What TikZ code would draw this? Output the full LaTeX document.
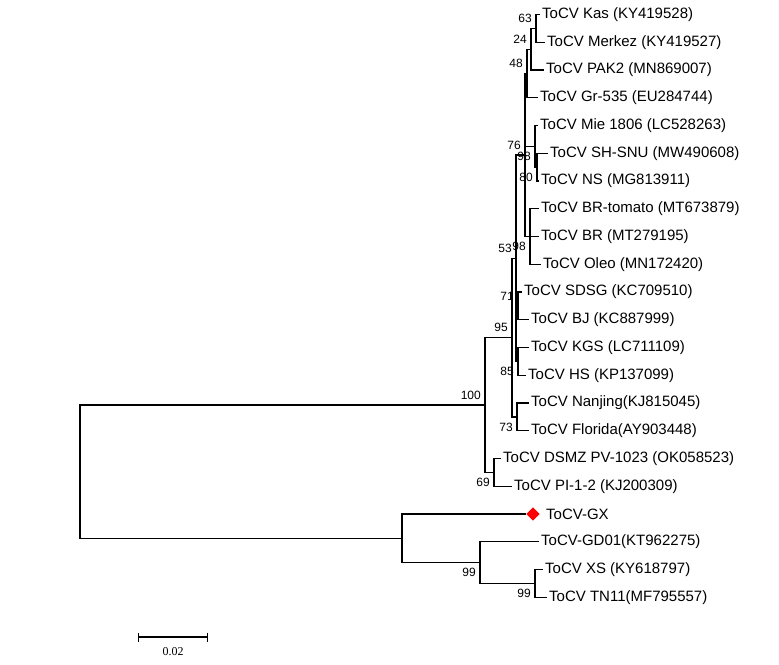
\documentclass[tikz,border=0pt]{standalone}
\usepackage{fontspec}
\setmainfont{Liberation Sans}
\newfontfamily\barfont{Liberation Serif}
\usetikzlibrary{shapes.geometric,arrows.meta}

\tikzset{
  branch/.style={line width=1.2pt},
  leaf/.style={anchor=west, inner sep=2.5pt, font=\fontsize{15}{16}\selectfont},
  boot/.style={anchor=east, inner sep=2pt, xshift=-2pt, font=\fontsize{12}{14}\selectfont},
  bootup/.style={boot, yshift=10pt},
  bootdn/.style={boot, yshift=-10pt},
  gxmark/.style={diamond, fill=red, inner sep=0pt, minimum width=13.5pt, minimum height=13.5pt}
}

\begin{document}
\begin{tikzpicture}[x=1pt, y=-1pt]
\useasboundingbox (0,0) rectangle (779,664);

% taxa
\node[leaf] (kas) at (539.5,14.5) {ToCV Kas (KY419528)};
\node[leaf] (merkez) at (544.5,42.2) {ToCV Merkez (KY419527)};
\node[leaf] (pak) at (543.5,70) {ToCV PAK2 (MN869007)};
\node[leaf] (gr) at (537.5,97.7) {ToCV Gr-535 (EU284744)};
\node[leaf] (mie) at (537.5,125.5) {ToCV Mie 1806 (LC528263)};
\node[leaf] (shsnu) at (547.5,153.2) {ToCV SH-SNU (MW490608)};
\node[leaf] (ns) at (538.5,181) {ToCV NS (MG813911)};
\node[leaf] (brt) at (538.5,208.7) {ToCV BR-tomato (MT673879)};
\node[leaf] (br) at (538.5,236.5) {ToCV BR (MT279195)};
\node[leaf] (oleo) at (540.5,264.2) {ToCV Oleo (MN172420)};
\node[leaf] (sdsg) at (521.5,292) {ToCV SDSG (KC709510)};
\node[leaf] (bj) at (528.5,319.7) {ToCV BJ (KC887999)};
\node[leaf] (kgs) at (528.5,347.5) {ToCV KGS (LC711109)};
\node[leaf] (hs) at (525.5,375.2) {ToCV HS (KP137099)};
\node[leaf] (nanjing) at (528.5,403) {ToCV Nanjing(KJ815045)};
\node[leaf] (florida) at (528.5,430.7) {ToCV Florida(AY903448)};
\node[leaf] (dsmz) at (500.5,458.5) {ToCV DSMZ PV-1023 (OK058523)};
\node[leaf] (pi) at (511.5,486.2) {ToCV PI-1-2 (KJ200309)};
\node[gxmark] (gxm) at (533,514) {};
\node[leaf] (gx) at (543.5,514) {ToCV-GX};
\node[leaf] (gd) at (538.5,541.7) {ToCV-GD01(KT962275)};
\node[leaf] (xs) at (542.5,569.5) {ToCV XS (KY618797)};
\node[leaf] (tn) at (546.5,597.2) {ToCV TN11(MF795557)};

% internal nodes
\coordinate (a) at (536,28.4);
\coordinate (b) at (531,49.2);
\coordinate (c) at (527,73.5);
\coordinate (f) at (537,167.1);
\coordinate (e) at (535,146.3);
\coordinate (brn) at (530,236.5);
\coordinate (w) at (525,155);
\coordinate (p) at (518,305.9);
\coordinate (q) at (518,361.4);
\coordinate (u) at (516,258.2);
\coordinate (nf) at (517,416.9);
\coordinate (n95) at (512,337.5);
\coordinate (dp) at (494,472.4);
\coordinate (n100) at (485,405);
\coordinate (tx) at (535,583.4);
\coordinate (gdn) at (480,562.6);
\coordinate (low) at (402,538.3);
\coordinate (root) at (80,471.6);

\draw[branch] (a) |- (kas.west);
\draw[branch] (a) |- (merkez.west);
\draw[branch] (b) |- (a);
\draw[branch] (b) |- (pak.west);
\draw[branch] (c) |- (b);
\draw[branch] (c) |- (gr.west);
\draw[branch] (f) |- (shsnu.west);
\draw[branch] (f) |- (ns.west);
\draw[branch] (e) |- (mie.west);
\draw[branch] (e) |- (f);
\draw[branch] (brn) |- (brt.west);
\draw[branch] (brn) -- (br.west);
\draw[branch] (brn) |- (oleo.west);
\draw[branch] (w) |- (c);
\draw[branch] (w) |- (e);
\draw[branch] (w) |- (brn);
\draw[branch] (p) |- (sdsg.west);
\draw[branch] (p) |- (bj.west);
\draw[branch] (q) |- (kgs.west);
\draw[branch] (q) |- (hs.west);
\draw[branch] (u) |- (w);
\draw[branch] (u) |- (p);
\draw[branch] (u) |- (q);
\draw[branch] (nf) |- (nanjing.west);
\draw[branch] (nf) |- (florida.west);
\draw[branch] (n95) |- (u);
\draw[branch] (n95) |- (nf);
\draw[branch] (dp) |- (dsmz.west);
\draw[branch] (dp) |- (pi.west);
\draw[branch] (n100) |- (n95);
\draw[branch] (n100) |- (dp);
\draw[branch] (tx) |- (xs.west);
\draw[branch] (tx) |- (tn.west);
\draw[branch] (gdn) |- (gd.west);
\draw[branch] (gdn) |- (tx);
\draw[branch] (low) |- (gxm.west);
\draw[branch] (low) |- (gdn);
\draw[branch] (root) |- (n100);
\draw[branch] (root) |- (low);

% bootstrap values
\node[bootup] (b63) at (a) {63};
\node[bootup] (b24) at (b) {24};
\node[bootup] (b48) at (c) {48};
\node[bootup] (b76) at (w) {76};
\node[bootdn] (b98a) at (e) {98};
\node[bootdn] (b80) at (f) {80};
\node[bootup] (b53) at (u) {53};
\node[bootdn] (b98b) at (brn) {98};
\node[bootup] (b71) at (p) {71};
\node[bootdn] (b85) at (q) {85};
\node[bootup] (b95) at (n95) {95};
\node[bootup] (b100) at (n100) {100};
\node[bootdn] (b73) at (nf) {73};
\node[bootdn] (b69) at (dp) {69};
\node[bootdn] (b99a) at (gdn) {99};
\node[bootdn] (b99b) at (tx) {99};

% scale bar
\coordinate (sbl) at (138,637);
\coordinate (sbr) at (208,637);
\draw[line width=1.2pt, {Bar[width=9pt]}-{Bar[width=9pt]}] (sbl) -- (sbr);
\node[font=\barfont\fontsize{12}{14}\selectfont] (sblab) at (173,652) {0.02};
\end{tikzpicture}
\end{document}
